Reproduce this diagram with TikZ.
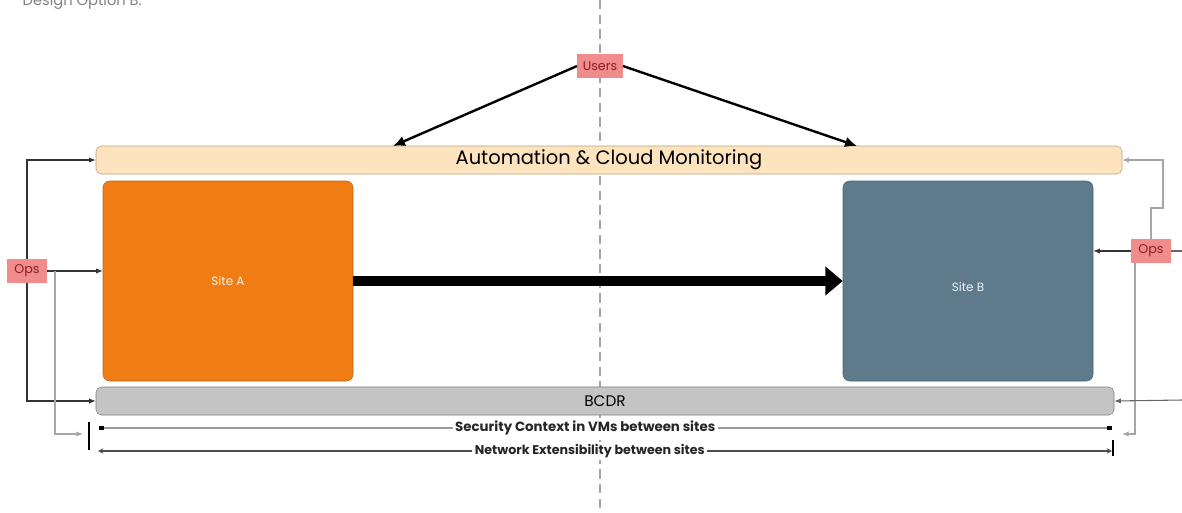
\documentclass[tikz,border=0pt]{standalone}
\usepackage{fontspec}
\setmainfont{Poppins}
\usetikzlibrary{positioning,calc,arrows.meta}
\definecolor{siteorange}{HTML}{F07D14}
\definecolor{siteslate}{HTML}{5E7A8B}
\definecolor{autopeach}{HTML}{FDE4BE}
\definecolor{autoedge}{HTML}{B8A07A}
\definecolor{bcdrgray}{HTML}{C4C4C4}
\definecolor{tagred}{HTML}{F08C8C}
\definecolor{tagtext}{HTML}{8B1E1E}

\begin{document}
\begin{tikzpicture}[x=0.75pt,y=-0.75pt,
    tag/.style={fill=tagred,text=tagtext,font=\fontsize{9.5}{11}\selectfont,inner sep=2pt,minimum height=18pt,minimum width=30pt},
    site/.style={draw=#1!80!black,fill=#1,rounded corners=5pt,minimum width=187.5pt,minimum height=150pt,text=white!90!#1,font=\fontsize{9}{10}\selectfont},
    bar/.style={rounded corners=4pt,minimum height=21pt,inner sep=0pt},
    opsline/.style={black!80,line width=0.8pt,-{Latex[length=5pt,width=4pt]}},
    faint/.style={black!35,line width=0.8pt,-{Latex[length=5pt,width=4pt]}},
    spanline/.style={black!40,line width=0.8pt}]
    \useasboundingbox (0,0) rectangle (1182,512);

    % centre split
    \draw [gray!70,line width=1.6pt,dash pattern=on 7pt off 4pt] (600,0) -- (600,512);
    \node [anchor=base west,text=gray,font=\fontsize{11}{12}\selectfont] at (18,5) {Design Option B:};

    % bars and sites
    \node [bar,draw=autoedge,fill=autopeach,minimum width=769.5pt,font=\fontsize{14.6}{16}\selectfont] (auto) at (609,160) {Automation \& Cloud Monitoring};
    \node [site=siteorange] (siteA) at (228,281) {Site A};
    \node [site=siteslate] (siteB) at (968,281) {\raisebox{-8pt}[0pt][0pt]{Site B}};
    \node [bar,draw=black!50,fill=bcdrgray,minimum width=763.5pt,font=\fontsize{11.5}{13}\selectfont] (bcdr) at (605,401) {BCDR};

    % users
    \node [tag,minimum width=34pt] (users) at (600,66) {Users};
    \coordinate (autoL) at (393,146);
    \coordinate (autoR) at (857,146);
    \draw [line width=1.8pt,-{Latex[length=9pt,width=8pt]}] (users.west) -- (autoL);
    \draw [line width=1.8pt,-{Latex[length=9pt,width=8pt]}] (users.east) -- (autoR);

    % replication
    \draw [line width=7.5pt,-{Triangle[length=13pt,width=21pt]}] (siteA.east) -- (siteB.west);

    % ops, left side
    \node [tag] (opsL) at (27,271) {Ops};
    \draw [opsline] (opsL.north) |- (auto.west);
    \draw [opsline] (opsL.south) |- (bcdr.west);
    \draw [opsline] (opsL.east) -- (opsL.east -| siteA.west);
    \coordinate (brL) at (55,271);
    \coordinate (secL) at (83,434);
    \draw [faint] (brL) |- (secL);

    % ops, right side
    \node [tag] (opsR) at (1151,251) {Ops};
    \coordinate (edgeR) at (1182,251);
    \coordinate (kneeR) at (1163,208);
    \coordinate (secR) at (1122,434);
    \coordinate (edgeB) at (1182,400);
    \draw [opsline] (opsR.west) -- (opsR.west -| siteB.east);
    \draw [black!60,line width=0.8pt] (opsR.east) -- (edgeR);
    \draw [faint] (opsR.north) |- (kneeR) -- ++(0,-48) -- (auto.east);
    \draw [faint] ([xshift=-12pt]opsR.south) |- (secR);
    \draw [black!60,line width=0.8pt,-{Latex[length=5pt,width=4pt]}] (edgeB) -- (bcdr.east);

    % spans between sites
    \coordinate (secA) at (99,428);
    \coordinate (secB) at (1112,428);
    \coordinate (netA) at (98,451);
    \coordinate (netB) at (1112,451);
    \draw [spanline,{Square[length=3.5pt,width=3.5pt,black]}-{Square[length=3.5pt,width=3.5pt,black]}] (secA) -- (secB)
        node [pos=0.48,fill=white,text=black!85,inner sep=2pt,font=\fontsize{10}{11}\selectfont\bfseries] {Security Context in VMs between sites};
    \draw [black!70,line width=0.8pt,{Stealth[length=4pt,width=4pt]}-{Stealth[length=4pt,width=4pt]}] (netA) -- (netB)
        node [pos=0.485,fill=white,text=black!85,inner sep=2pt,font=\fontsize{9.5}{11}\selectfont\bfseries] {Network Extensibility between sites};
    \draw [line width=0.9pt] (89,422) -- (89,450);
    \draw [line width=0.9pt] (1113,440) -- (1113,456);
\end{tikzpicture}
\end{document}
